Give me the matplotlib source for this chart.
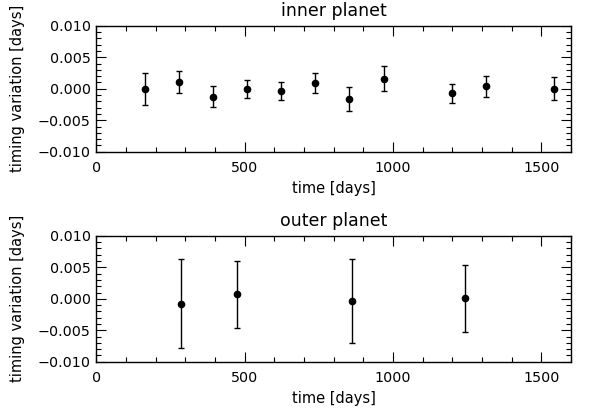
import numpy as np
import matplotlib.pyplot as plt
from matplotlib.ticker import MultipleLocator

# transit timing residuals, inner planet
inner_t = [164, 279, 394, 509, 624, 738, 853, 968, 1199, 1313, 1543]
inner_ttv = [0.0000, 0.00106, -0.00128, -0.0001, -0.00032, 0.00096,
             -0.0016, 0.0016, -0.00075, 0.00037, 0.0000]
inner_err = [0.00256, 0.00176, 0.00168, 0.00144, 0.00144, 0.00157,
             0.0019, 0.002, 0.00155, 0.0016, 0.00184]

# transit timing residuals, outer planet
outer_t = [285, 476, 861, 1243]
outer_ttv = [-0.00075, 0.0007, -0.00035, 0.00005]
outer_err = [0.00703, 0.00537, 0.0066, 0.0053]

plt.rcParams['font.family'] = ['DejaVu Sans']
plt.rcParams['font.size'] = 10

fig = plt.figure(figsize=(5.9, 4.11), dpi=100)
ax1 = fig.add_axes([0.163, 0.631, 0.805, 0.306])
ax2 = fig.add_axes([0.163, 0.120, 0.805, 0.306])


def panel(ax, t, v, e, title):
    ax.errorbar(t, v, yerr=e, fmt='o', color='black', ms=4.5,
                elinewidth=1, capsize=2.5, capthick=1)
    ax.set_xlim(0, 1600)
    ax.set_ylim(-0.010, 0.010)
    ax.xaxis.set_major_locator(MultipleLocator(500))
    ax.xaxis.set_minor_locator(MultipleLocator(100))
    ax.yaxis.set_minor_locator(MultipleLocator(0.001))
    ax.set_yticks([-0.010, -0.005, 0.0, 0.005, 0.010])
    ax.set_yticklabels(['\u22120.010', '\u22120.005', '0.000', '0.005', '0.010'])
    ax.tick_params(which='both', direction='in', top=True, right=True,
                   width=0.8, color='black', labelsize=10.3)
    ax.tick_params(which='major', length=7)
    ax.tick_params(which='minor', length=3.5)
    ax.tick_params(axis='x', pad=7)
    ax.tick_params(axis='y', pad=4)
    for sp in ax.spines.values():
        sp.set_linewidth(1.0)
    ax.set_title(title, fontsize=12.5, pad=7)
    ax.set_xlabel('time [days]', fontsize=10.5, labelpad=4)
    ax.set_ylabel('timing variation [days]', fontsize=10.5, labelpad=9)


panel(ax1, inner_t, inner_ttv, inner_err, 'inner planet')
panel(ax2, outer_t, outer_ttv, outer_err, 'outer planet')

fig.savefig('out.png', dpi=100)
